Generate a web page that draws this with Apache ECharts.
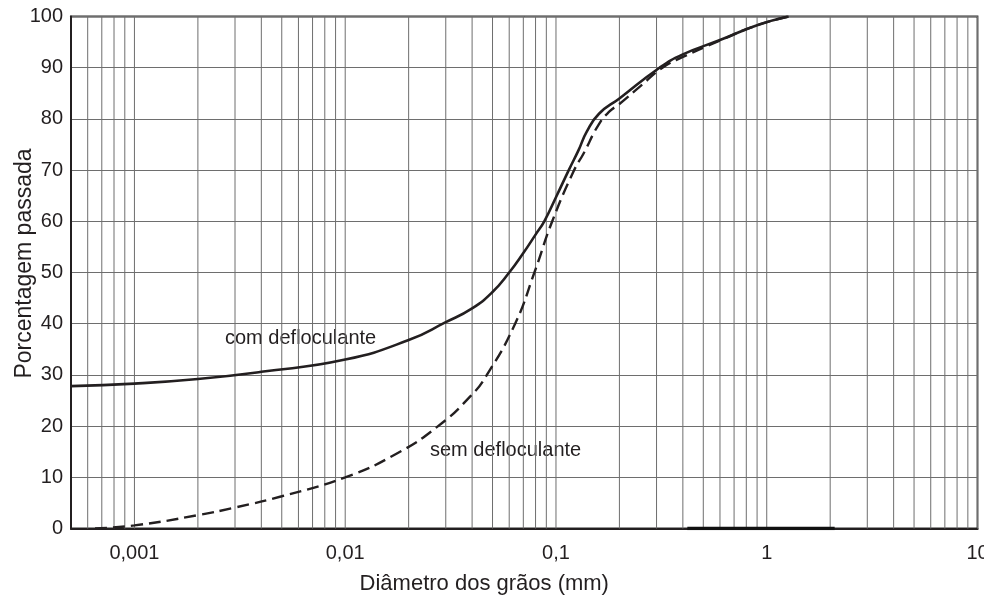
<!DOCTYPE html>
<html>
<head>
<meta charset="utf-8">
<script src="https://cdn.jsdelivr.net/npm/echarts@6/dist/echarts.min.js"></script>
<style>
html,body{margin:0;padding:0;background:#fff;}
#chart{width:984px;height:599px;}
</style>
</head>
<body>
<div id="chart"></div>
<script>
// ---- data ----
const comDefloculante = [
  [0.0005, 27.8], [0.001, 28.3], [0.002, 29.2], [0.004, 30.6], [0.01, 33.0],
  [0.02, 36.8], [0.03, 40.3], [0.04, 43.0], [0.05, 46.2], [0.06, 50.0],
  [0.07, 53.8], [0.08, 57.4], [0.088, 60.0], [0.1, 64.7], [0.115, 70.0],
  [0.128, 73.9], [0.14, 77.5], [0.16, 81.0], [0.2, 84.0], [0.31, 90.0],
  [0.4, 92.6], [0.6, 95.4], [0.9, 98.3], [1.27, 100]
];
const semDefloculante = [
  [0.00065, 0.0], [0.001, 0.6], [0.002, 2.6], [0.003, 4.1], [0.005, 6.3],
  [0.01, 10.0], [0.0175, 14.6], [0.0276, 20.0], [0.039, 25.7], [0.047, 30.0],
  [0.064, 40.0], [0.079, 50.0], [0.096, 60.0], [0.122, 70.0], [0.135, 73.2],
  [0.16, 79.0], [0.18, 81.5], [0.2, 82.9], [0.25, 86.3], [0.32, 90.0],
  [0.4, 92.1], [0.6, 95.3], [0.9, 98.3], [1.27, 100]
];
const baseBar = [[0.42, 0], [2.1, 0]];
const xTickValues = [0.001, 0.01, 0.1, 1, 10];
const xTickLabels = ['0,001', '0,01', '0,1', '1', '10'];
const xMin = 0.0005, xMax = 10;
const yMin = 0, yMax = 100, yStep = 10;
const labelCom = 'com defloculante';
const labelSem = 'sem defloculante';
const xName = 'Diâmetro dos grãos (mm)';
const yName = 'Porcentagem passada';

// ---- log grid lines (1..9 per decade) ----
const gridVals = [];
for (let e = -4; e <= 1; e++) {
  for (let k = 1; k <= 9; k++) {
    const v = +(k * Math.pow(10, e)).toPrecision(6);
    if (v > xMin && v <= xMax) gridVals.push(v);
  }
}

const txt = '#231f20';
const font = 'Liberation Sans, Arial, sans-serif';
const gridColor = '#6e6e6e';

const gridSeries = gridVals.map(v => ({
  type: 'line', data: [[v, yMin], [v, yMax]], silent: true,
  showSymbol: false, symbol: 'none', z: 1,
  lineStyle: { color: gridColor, width: 1 },
  emphasis: { disabled: true }, tooltip: { show: false }
}));

const chart = echarts.init(document.getElementById('chart'));
chart.setOption({
  animation: false,
  backgroundColor: '#fff',
  grid: {
    left: 71, right: 6.5, top: 16.5, bottom: 70.5,
    containLabel: false, outerBoundsMode: 'none',
    show: true, borderColor: '#2a2a2a', borderWidth: 1.8
  },
  xAxis: {
    type: 'log', logBase: 10, min: xMin, max: xMax,
    name: xName, nameLocation: 'middle', nameGap: 44, nameMoveOverlap: false,
    nameTextStyle: { fontSize: 22, color: txt, fontFamily: font, padding: [0, 80, 0, 0] },
    axisLine: { show: true, onZero: false, lineStyle: { color: '#231f20', width: 2 } },
    axisTick: { show: false },
    splitLine: { show: false },
    minorSplitLine: { show: false },
    axisLabel: {
      fontSize: 20, color: txt, fontFamily: font, margin: 15,
      showMinLabel: false, hideOverlap: false,
      formatter: function (v) {
        for (let i = 0; i < xTickValues.length; i++) {
          if (Math.abs(Math.log10(v) - Math.log10(xTickValues[i])) < 1e-6) return xTickLabels[i];
        }
        return '';
      }
    }
  },
  yAxis: {
    type: 'value', min: yMin, max: yMax, interval: yStep,
    name: yName, nameLocation: 'middle', nameGap: 35, nameMoveOverlap: false,
    nameTextStyle: { fontSize: 23, color: txt, fontFamily: font, padding: [0, 0, 0, 18] },
    axisLine: { show: true, lineStyle: { color: '#231f20', width: 2 } },
    axisTick: { show: false },
    splitLine: { show: true, lineStyle: { color: gridColor, width: 1 } },
    axisLabel: { fontSize: 20, color: txt, fontFamily: font, margin: 8 }
  },
  series: gridSeries.concat([
    {
      type: 'line', name: labelCom, data: comDefloculante,
      smooth: 0.5, showSymbol: false, symbol: 'none',
      lineStyle: { color: '#231f20', width: 2.6 }, z: 5
    },
    {
      type: 'line', name: labelSem, data: semDefloculante,
      smooth: 0.5, showSymbol: false, symbol: 'none',
      lineStyle: { color: '#231f20', width: 2.4, type: [12, 6] }, z: 4
    },
    {
      type: 'line', name: 'base', data: baseBar, showSymbol: false, symbol: 'none',
      lineStyle: { color: '#111', width: 3.5 }, z: 6
    }
  ]),
  graphic: [
    { type: 'text', left: 225, top: 328, style: { text: labelCom, fontSize: 20, fill: txt, fontFamily: font } },
    { type: 'text', left: 430, top: 440, style: { text: labelSem, fontSize: 20, fill: txt, fontFamily: font } }
  ]
});
</script>
</body>
</html>
